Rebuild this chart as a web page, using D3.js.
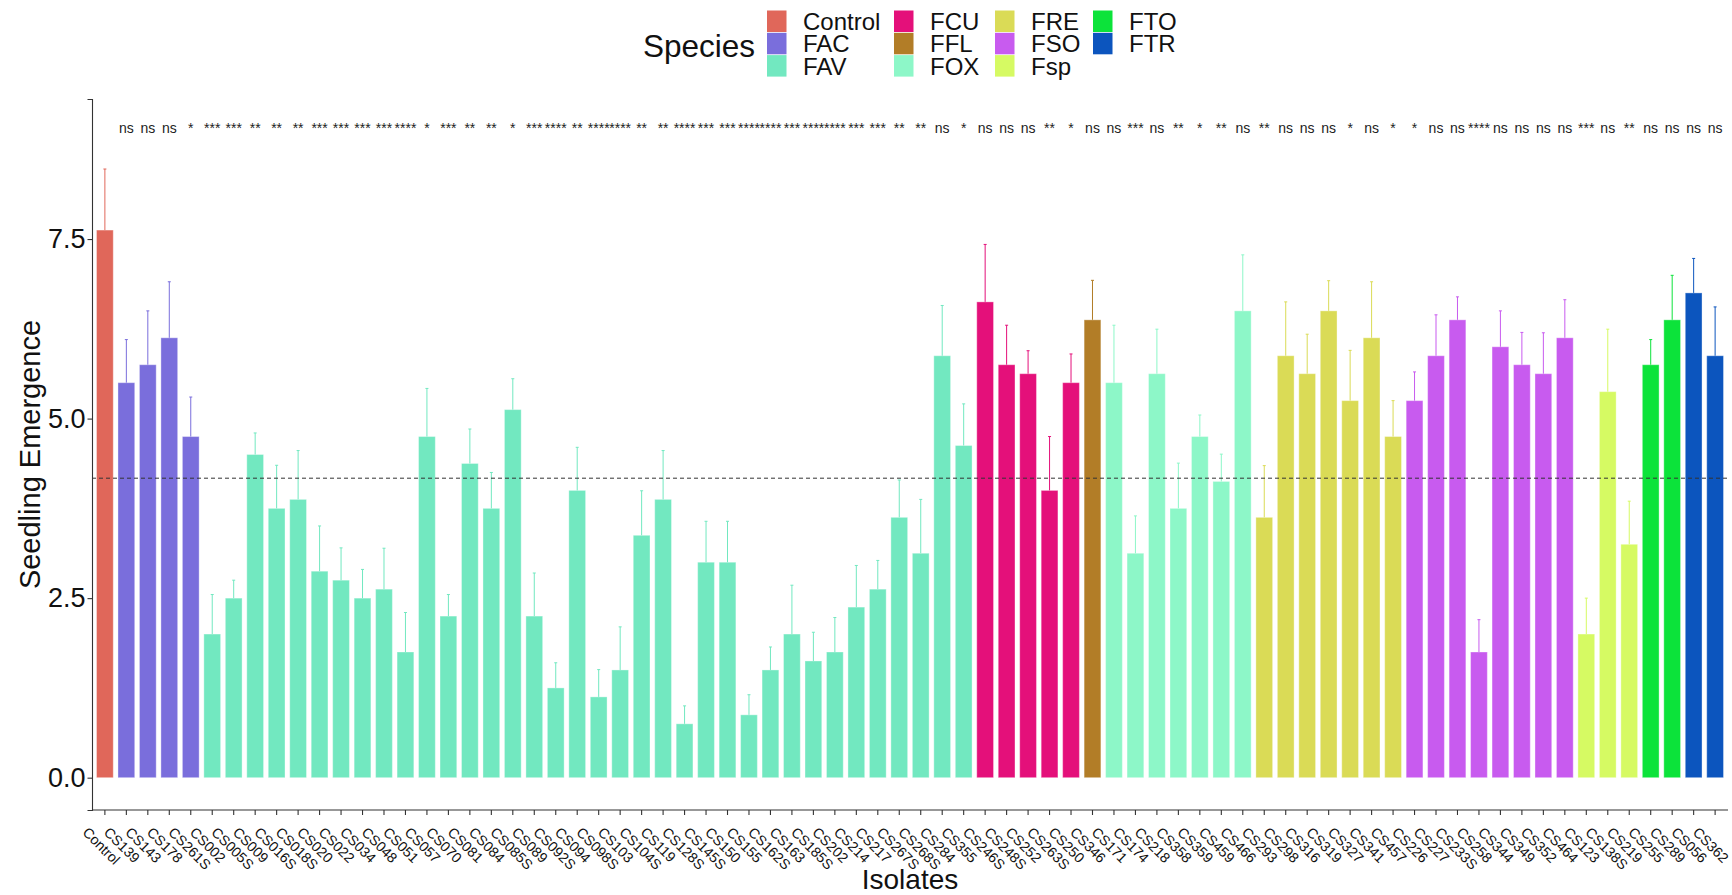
<!DOCTYPE html>
<html>
<head>
<meta charset="utf-8">
<script src="https://cdn.jsdelivr.net/npm/d3@7"></script>
<style>
  html, body { margin: 0; padding: 0; background: #fff; }
  svg { display: block; font-family: "Liberation Sans", Arial, sans-serif; }
</style>
</head>
<body>
<svg id="chart" width="1732" height="895"></svg>
<script>
// Isolates in plotting order
const isolates = [
  "Control",
  "CS139", "CS143", "CS178", "CS261S",
  "CS002", "CS005S", "CS009", "CS016S", "CS018S", "CS020", "CS022", "CS034", "CS048", "CS051",
  "CS057", "CS070", "CS081", "CS084", "CS085S", "CS089", "CS092S", "CS094", "CS098S", "CS103",
  "CS104S", "CS119", "CS128S", "CS145S", "CS150", "CS155", "CS162S", "CS163", "CS185S", "CS202",
  "CS214", "CS217", "CS267S", "CS268S", "CS284", "CS355",
  "CS246S", "CS248S", "CS252", "CS263S", "CS250",
  "CS346",
  "CS171", "CS174", "CS218", "CS358", "CS359", "CS459", "CS466",
  "CS293", "CS298", "CS316", "CS319", "CS327", "CS341", "CS457",
  "CS226", "CS227", "CS233S", "CS258", "CS344", "CS349", "CS352", "CS464",
  "CS123", "CS138S", "CS219",
  "CS255", "CS289",
  "CS056", "CS362"
];

// Species of each isolate
const speciesOf = [
  "Control",
  "FAC", "FAC", "FAC", "FAC",
  "FAV", "FAV", "FAV", "FAV", "FAV", "FAV", "FAV", "FAV", "FAV", "FAV",
  "FAV", "FAV", "FAV", "FAV", "FAV", "FAV", "FAV", "FAV", "FAV", "FAV",
  "FAV", "FAV", "FAV", "FAV", "FAV", "FAV", "FAV", "FAV", "FAV", "FAV",
  "FAV", "FAV", "FAV", "FAV", "FAV", "FAV",
  "FCU", "FCU", "FCU", "FCU", "FCU",
  "FFL",
  "FOX", "FOX", "FOX", "FOX", "FOX", "FOX", "FOX",
  "FRE", "FRE", "FRE", "FRE", "FRE", "FRE", "FRE",
  "FSO", "FSO", "FSO", "FSO", "FSO", "FSO", "FSO", "FSO",
  "Fsp", "Fsp", "Fsp",
  "FTO", "FTO",
  "FTR", "FTR"
];

// Mean seedling emergence per isolate
const emergence = [
  7.625,
  5.5, 5.75, 6.125, 4.75,
  2.0, 2.5, 4.5, 3.75, 3.875, 2.875, 2.75, 2.5, 2.625, 1.75,
  4.75, 2.25, 4.375, 3.75, 5.125, 2.25, 1.25, 4.0, 1.125, 1.5,
  3.375, 3.875, 0.75, 3.0, 3.0, 0.875, 1.5, 2.0, 1.625, 1.75,
  2.375, 2.625, 3.625, 3.125, 5.875, 4.625,
  6.625, 5.75, 5.625, 4.0, 5.5,
  6.375,
  5.5, 3.125, 5.625, 3.75, 4.75, 4.125, 6.5,
  3.625, 5.875, 5.625, 6.5, 5.25, 6.125, 4.75,
  5.25, 5.875, 6.375, 1.75, 6.0, 5.75, 5.625, 6.125,
  2.0, 5.375, 3.25,
  5.75, 6.375,
  6.75, 5.875
];

// Standard error of each mean
const stdError = [
  0.85,
  0.6, 0.75, 0.78, 0.55,
  0.55, 0.25, 0.3, 0.6, 0.68, 0.63, 0.45, 0.4, 0.57, 0.55,
  0.67, 0.3, 0.48, 0.5, 0.43, 0.6, 0.35, 0.6, 0.38, 0.6,
  0.62, 0.68, 0.25, 0.57, 0.57, 0.28, 0.32, 0.68, 0.4, 0.48,
  0.58, 0.4, 0.52, 0.75, 0.7, 0.58,
  0.8, 0.55, 0.32, 0.75, 0.4,
  0.55,
  0.8, 0.52, 0.62, 0.63, 0.3, 0.38, 0.78,
  0.72, 0.75, 0.55, 0.42, 0.7, 0.78, 0.5,
  0.4, 0.57, 0.32, 0.45, 0.5, 0.45, 0.57, 0.53,
  0.5, 0.87, 0.6,
  0.35, 0.62,
  0.48, 0.68
];

// Significance versus the control
const significance = [
  "",
  "ns", "ns", "ns", "*",
  "***", "***", "**", "**", "**", "***", "***", "***", "***", "****",
  "*", "***", "**", "**", "*", "***", "****", "**", "****", "****",
  "**", "**", "****", "***", "***", "****", "****", "***", "****", "****",
  "***", "***", "**", "**", "ns", "*",
  "ns", "ns", "ns", "**", "*",
  "ns",
  "ns", "***", "ns", "**", "*", "**", "ns",
  "**", "ns", "ns", "ns", "*", "ns", "*",
  "*", "ns", "ns", "****", "ns", "ns", "ns", "ns",
  "***", "ns", "**",
  "ns", "ns",
  "ns", "ns"
];

const speciesNames = ["Control", "FAC", "FAV", "FCU", "FFL", "FOX", "FRE", "FSO", "Fsp", "FTO", "FTR"];
const speciesColors = ["#E0675A", "#7A6EDC", "#72E8C0", "#E4107A", "#B27D27", "#8DF7C8", "#DADB56", "#C85BEF", "#D6FA63", "#0CE33A", "#0C55BE"];

const yTicks = [0, 2.5, 5.0, 7.5];
const referenceLine = 4.17;
const labelLevel = 9;

// ---- layout ----
const svg = d3.select("#chart");
const panel = { left: 92, right: 1728, top: 99, bottom: 810 };

const color = d3.scaleOrdinal().domain(speciesNames).range(speciesColors);

const x = d3.scaleBand()
  .domain(isolates)
  .range([panel.left, panel.right])
  .paddingInner(0.22)
  .paddingOuter(0.21);

const y = d3.scaleLinear()
  .domain([-0.45, 9.45])
  .range([panel.bottom, panel.top]);

const rows = isolates.map((name, i) => ({
  name,
  species: speciesOf[i],
  value: emergence[i],
  se: stdError[i],
  sig: significance[i]
}));

// bars
svg.append("g").selectAll("rect")
  .data(rows)
  .join("rect")
  .attr("x", d => x(d.name))
  .attr("width", x.bandwidth())
  .attr("y", d => y(d.value))
  .attr("height", d => y(0) - y(d.value))
  .attr("fill", d => color(d.species))
  .attr("stroke", "#ffffff")
  .attr("stroke-opacity", 0.35)
  .attr("stroke-width", 1);

// upper error bars
const err = svg.append("g").selectAll("g")
  .data(rows)
  .join("g")
  .attr("stroke", d => color(d.species))
  .attr("stroke-width", 1);
err.append("line")
  .attr("x1", d => x(d.name) + x.bandwidth() / 2)
  .attr("x2", d => x(d.name) + x.bandwidth() / 2)
  .attr("y1", d => y(d.value))
  .attr("y2", d => y(d.value + d.se));
err.append("line")
  .attr("x1", d => x(d.name) + x.bandwidth() / 2 - 1.5)
  .attr("x2", d => x(d.name) + x.bandwidth() / 2 + 1.5)
  .attr("y1", d => y(d.value + d.se))
  .attr("y2", d => y(d.value + d.se));

// dashed reference line
svg.append("line")
  .attr("x1", panel.left)
  .attr("x2", panel.right)
  .attr("y1", y(referenceLine))
  .attr("y2", y(referenceLine))
  .attr("stroke", "#333")
  .attr("stroke-width", 1)
  .attr("stroke-dasharray", "4,3");

// significance labels
svg.append("g").selectAll("text")
  .data(rows.filter(d => d.sig))
  .join("text")
  .attr("x", d => x(d.name) + x.bandwidth() / 2)
  .attr("y", y(labelLevel) + 2)
  .attr("text-anchor", "middle")
  .attr("font-size", 14)
  .attr("fill", "#222")
  .text(d => d.sig);

// y axis
const yAxis = svg.append("g")
  .attr("transform", `translate(${panel.left},0)`)
  .call(d3.axisLeft(y).tickValues(yTicks).tickFormat(d3.format(".1f")).tickSize(4.5).tickPadding(2));
yAxis.select(".domain").attr("stroke", "#333").attr("stroke-width", 1.1);
yAxis.selectAll(".tick line").attr("stroke", "#333").attr("stroke-width", 1.1);
yAxis.selectAll(".tick text").attr("font-size", 27).attr("fill", "#111")
  .attr("font-family", "Liberation Sans, Arial, sans-serif");

// x axis
const xAxis = svg.append("g")
  .attr("transform", `translate(0,${panel.bottom})`)
  .call(d3.axisBottom(x).tickSize(5).tickPadding(0));
xAxis.select(".domain").attr("stroke", "#333").attr("stroke-width", 1.1)
  .attr("d", `M${panel.left},0H${panel.right}`);
xAxis.selectAll(".tick line").attr("stroke", "#333").attr("stroke-width", 1.1);
xAxis.selectAll(".tick text")
  .attr("font-size", 14.2)
  .attr("fill", "#111")
  .attr("font-family", "Liberation Sans, Arial, sans-serif")
  .attr("text-anchor", "start")
  .attr("dy", "0.72em")
  .attr("y", 0)
  .attr("transform", "translate(-16,16) rotate(45)");

// axis titles
svg.append("text")
  .attr("transform", `translate(40,${(panel.top + panel.bottom) / 2}) rotate(-90)`)
  .attr("text-anchor", "middle")
  .attr("font-size", 29)
  .attr("fill", "#111")
  .text("Seedling Emergence");

svg.append("text")
  .attr("x", (panel.left + panel.right) / 2)
  .attr("y", 889)
  .attr("text-anchor", "middle")
  .attr("font-size", 28)
  .attr("fill", "#111")
  .text("Isolates");

// legend
const legend = svg.append("g");
legend.append("text")
  .attr("x", 643)
  .attr("y", 57)
  .attr("font-size", 31.5)
  .attr("fill", "#111")
  .text("Species");

const colX = [767, 894, 995, 1093];
const keyW = 19.5, keyH = 22.3, legendTop = 10.5;
speciesNames.forEach((s, i) => {
  const col = Math.floor(i / 3), row = i % 3;
  const gx = colX[col], gy = legendTop + row * keyH;
  legend.append("rect")
    .attr("x", gx).attr("y", gy)
    .attr("width", keyW).attr("height", keyH - 0.8)
    .attr("fill", color(s));
  legend.append("text")
    .attr("x", gx + 36)
    .attr("y", gy + keyH / 2 + 8.5)
    .attr("font-size", 24)
    .attr("fill", "#111")
    .text(s);
});
</script>
</body>
</html>
